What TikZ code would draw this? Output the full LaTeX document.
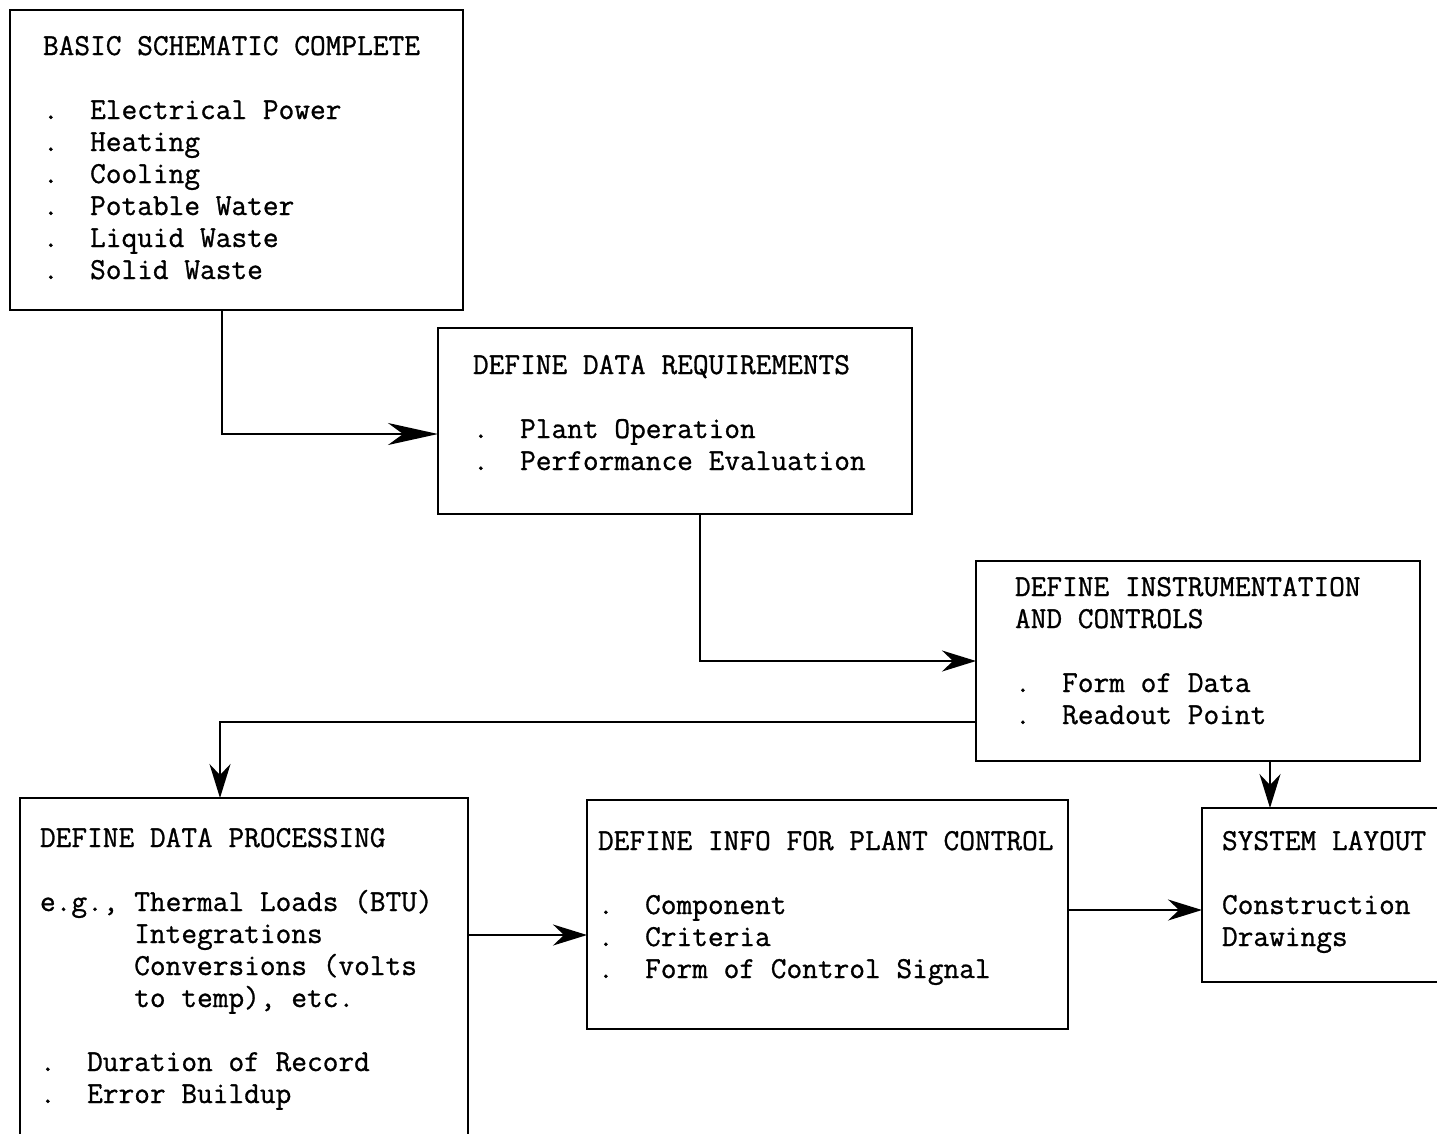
\documentclass[tikz,border=0pt]{standalone}
\usepackage{fontspec}
\usetikzlibrary{arrows.meta}
\newfontfamily\twfont{Latin Modern Mono}[FakeBold=0.9]
\begin{document}
\begin{tikzpicture}[x=1pt,y=-1pt,
  box/.style={draw=black,line width=2.4pt,rectangle,inner sep=0pt,outer sep=0pt,anchor=north west},
  txt/.style={anchor=base west,inner sep=0pt,outer sep=0pt,font=\fontsize{30.5}{32}\selectfont\twfont\frenchspacing},
  conn/.style={draw=black,line width=2.2pt,-{Stealth[length=34pt,width=21pt,inset=11pt]}},
  longconn/.style={draw=black,line width=2.2pt,-{Stealth[length=50pt,width=22pt,inset=15pt]}}]
\useasboundingbox (0,0) rectangle (1437,1133);
\clip (0,0) rectangle (1437,1133);
% boxes
\node[box,minimum width=453pt,minimum height=300pt] (b1) at (10,10) {};
\node[box,minimum width=474pt,minimum height=186pt] (b2) at (438,328) {};
\node[box,minimum width=444pt,minimum height=200pt] (b3) at (976,561) {};
\node[box,minimum width=448pt,minimum height=380pt] (b4) at (20,798) {};
\node[box,minimum width=481pt,minimum height=229pt] (b5) at (587,800) {};
\node[box,minimum width=280pt,minimum height=174pt] (b6) at (1202,808) {};
% texts
\node[txt] (t1) at (43,55) {\begin{tabular}[t]{@{}l@{}}BASIC SCHEMATIC COMPLETE\\ \\
.\ \ Electrical Power\\
.\ \ Heating\\
.\ \ Cooling\\
.\ \ Potable Water\\
.\ \ Liquid Waste\\
.\ \ Solid Waste\end{tabular}};
\node[txt] (t2) at (473,374) {\begin{tabular}[t]{@{}l@{}}DEFINE DATA REQUIREMENTS\\ \\
.\ \ Plant Operation\\
.\ \ Performance Evaluation\end{tabular}};
\node[txt] (t3) at (1015,596) {\begin{tabular}[t]{@{}l@{}}DEFINE INSTRUMENTATION\\
AND CONTROLS\\ \\
.\ \ Form of Data\\
.\ \ Readout Point\end{tabular}};
\node[txt] (t4) at (40,847) {\begin{tabular}[t]{@{}l@{}}DEFINE DATA PROCESSING\\ \\
e.g., Thermal Loads (BTU)\\
\ \ \ \ \ \ Integrations\\
\ \ \ \ \ \ Conversions (volts\\
\ \ \ \ \ \ to temp), etc.\\ \\
.\ \ Duration of Record\\
.\ \ Error Buildup\end{tabular}};
\node[txt] (t5) at (598,850) {\begin{tabular}[t]{@{}l@{}}DEFINE INFO FOR PLANT CONTROL\\ \\
.\ \ Component\\
.\ \ Criteria\\
.\ \ Form of Control Signal\end{tabular}};
\node[txt] (t6) at (1222,850) {\begin{tabular}[t]{@{}l@{}}SYSTEM LAYOUT\\ \\
Construction\\
Drawings\end{tabular}};
% connectors
\coordinate (c1) at (222,434);
\coordinate (c2) at (700,661);
\coordinate (c3) at (220,722);
\coordinate (c4) at (1270,0);
\coordinate (c5) at (0,935);
\coordinate (c6) at (0,910);
\draw[longconn] (b1.south -| c1) |- (b2.west |- c1);
\draw[conn] (b2.south -| c2) |- (b3.west |- c2);
\draw[conn] (b3.west |- c3) -| (b4.north -| c3);
\draw[conn] (b3.south -| c4) -- (b6.north -| c4);
\draw[conn] (b4.east |- c5) -- (b5.west |- c5);
\draw[conn] (b5.east |- c6) -- (b6.west |- c6);
\end{tikzpicture}
\end{document}
